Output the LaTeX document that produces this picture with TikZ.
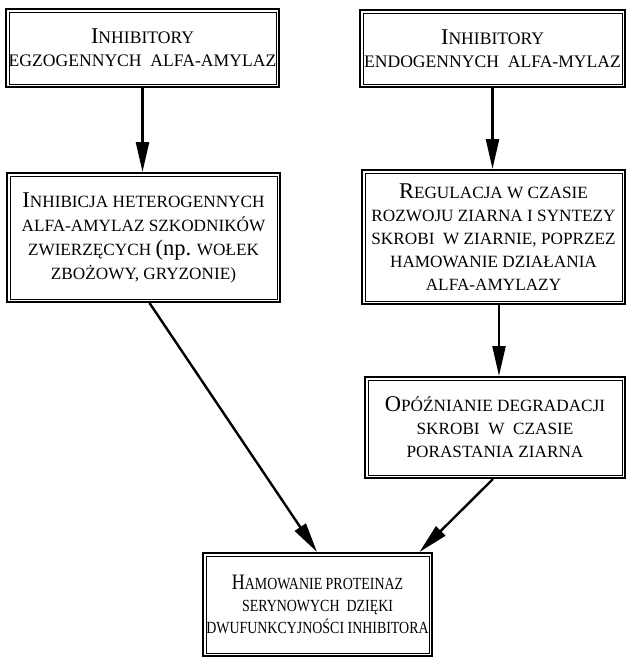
\documentclass[tikz,border=0pt]{standalone}
\usepackage{fontspec}
\setmainfont{Liberation Serif}
\newfontfamily\narrowserif[FakeStretch=0.82]{Liberation Serif}
\usetikzlibrary{arrows.meta}
\newcommand\Lg[1]{{\fontsize{22.5}{23}\selectfont #1}}
\newcommand\Lf[1]{{\fontsize{22}{22}\selectfont #1}}
\tikzset{
  box/.style={draw, line width=2pt, align=center, inner sep=0pt},
  fA/.style={font=\fontsize{17.6}{23}\selectfont},
  fC/.style={font=\fontsize{17.2}{24}\selectfont},
  fD/.style={font=\fontsize{17.2}{23}\selectfont},
  fF/.style={font=\narrowserif\fontsize{17}{22}\selectfont},
  inner/.style={line width=0.8pt},
  arr/.style={line width=2.4pt, -{Triangle[length=30pt,width=13pt]}}
}
\begin{document}
\begin{tikzpicture}[x=1pt,y=-1pt]
\useasboundingbox (0,0) rectangle (627,658);
\node[box, fA, minimum width=273pt, minimum height=78pt] (a) at (142.5,48)
  {\Lg{I}NHIBITORY\\EGZOGENNYCH\ \ ALFA-AMYLAZ};
\node[box, fA, minimum width=265pt, minimum height=77pt] (b) at (492.5,48.5)
  {\Lg{I}NHIBITORY\\ENDOGENNYCH\ \ ALFA-MYLAZ};
\node[box, fC, minimum width=273pt, minimum height=129pt] (c) at (143.5,237.5)
  {\Lg{I}NHIBICJA HETEROGENNYCH\\ALFA-AMYLAZ SZKODNIKÓW\\ZWIERZĘCYCH \Lg{(np.} WOŁEK\\ZBOŻOWY, GRYZONIE)};
\node[box, fD, minimum width=263pt, minimum height=134pt] (d) at (493.5,237)
  {\Lg{R}EGULACJA W CZASIE\\ROZWOJU ZIARNA I SYNTEZY\\SKROBI\ \ W ZIARNIE, POPRZEZ\\HAMOWANIE DZIAŁANIA\\ALFA-AMYLAZY};
\node[box, fD, minimum width=260pt, minimum height=101pt] (e) at (495,427.5)
  {\Lg{O}PÓŹNIANIE DEGRADACJI\\SKROBI\ \ W\ \ CZASIE\\PORASTANIA ZIARNA};
\node[box, fF, minimum width=229pt, minimum height=103pt] (f) at (317.5,604.5)
  {\Lf{H}AMOWANIE PROTEINAZ\\SERYNOWYCH\ \ DZIĘKI\\DWUFUNKCYJNOŚCI INHIBITORA};
\foreach \n in {a,b,c,d,e,f}
  \draw[inner] ([shift={(4,4)}]\n.north west) rectangle ([shift={(-4,-4)}]\n.south east);
\draw[arr] (a.south) -- (a.south |- c.north);
\draw[arr] (b.south) -- (b.south |- d.north);
\draw[arr] ([xshift=5.5pt]d.south) -- ([xshift=5.5pt]d.south |- e.north);
\draw[arr] ([xshift=6pt]c.south) -- ([xshift=-0.5pt]f.north);
\draw[arr] ([xshift=-2pt]e.south) -- ([xshift=102pt]f.north);
\end{tikzpicture}
\end{document}
